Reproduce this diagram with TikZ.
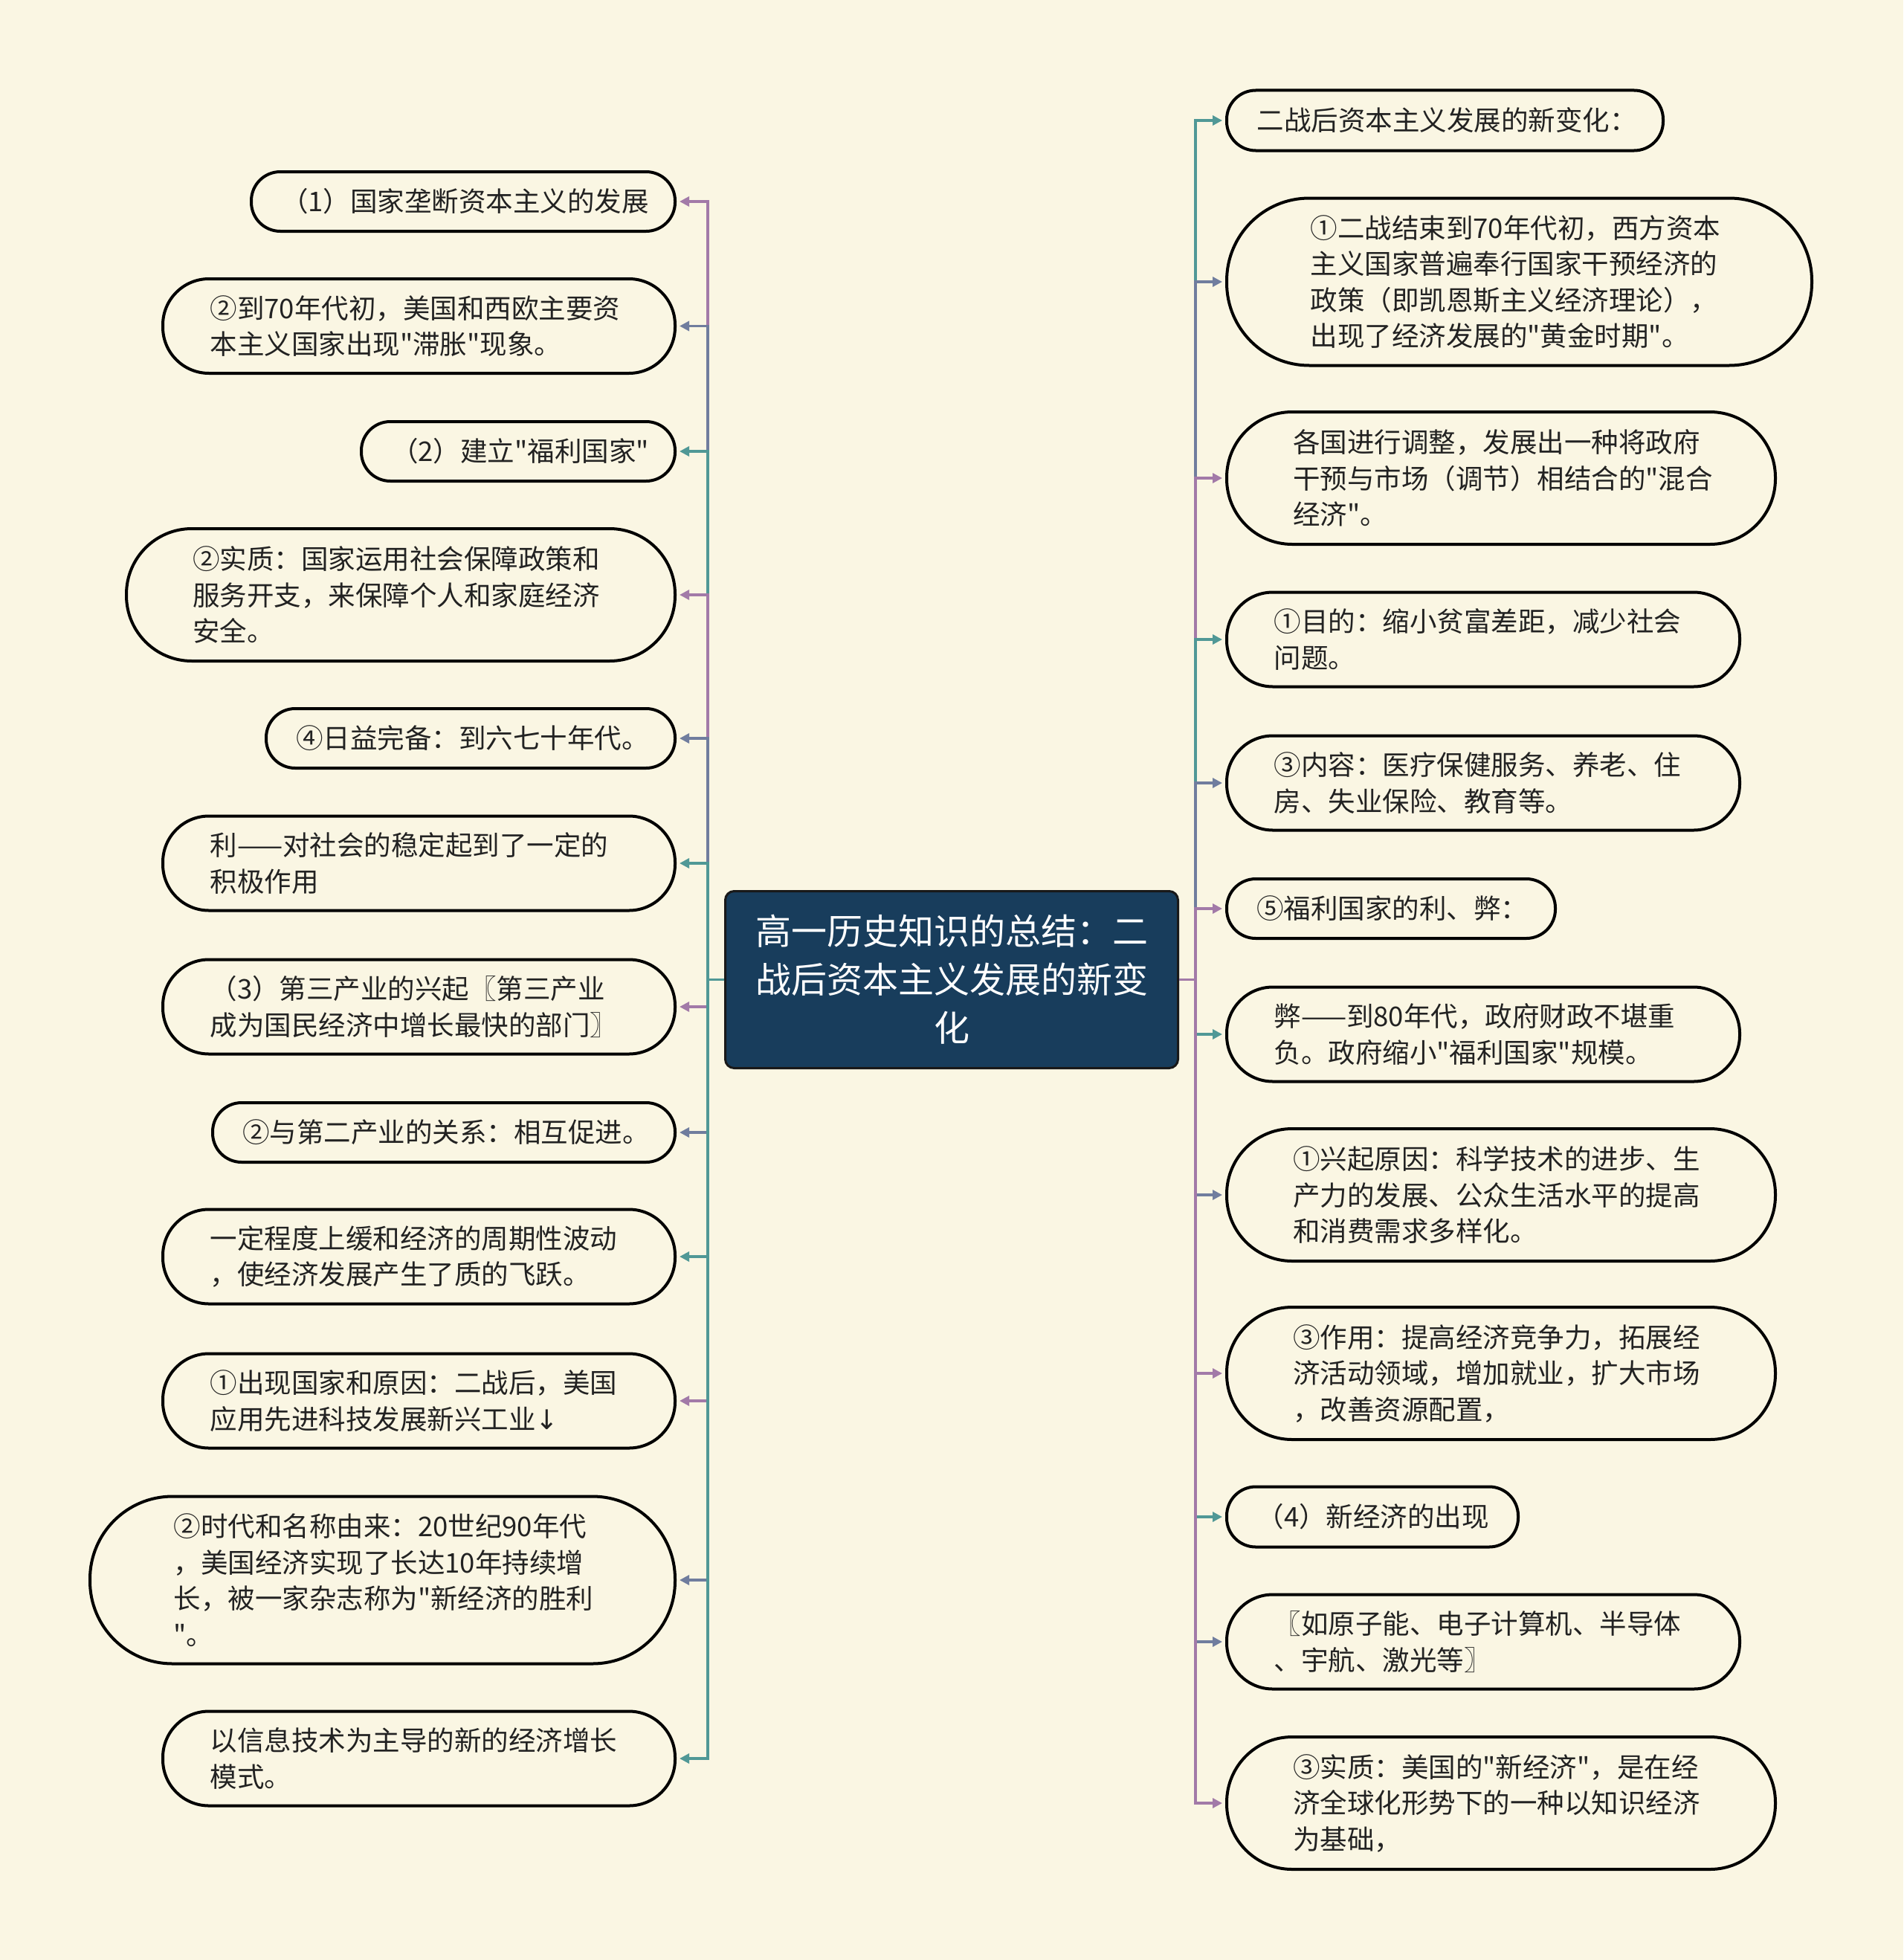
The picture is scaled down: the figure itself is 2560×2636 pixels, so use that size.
\documentclass[tikz,border=0pt]{standalone}
\usepackage{fontspec}
\newfontfamily\cjk{Noto Sans CJK SC}
\newfontfamily\symf{DejaVu Sans}
\usetikzlibrary{arrows.meta}
\definecolor{bg}{RGB}{250,246,227}
\definecolor{navy}{RGB}{24,61,92}
\definecolor{cteal}{RGB}{80,152,150}
\definecolor{cblue}{RGB}{112,125,158}
\definecolor{cpurp}{RGB}{162,122,168}
\definecolor{txt}{RGB}{34,34,34}
\tikzset{
  leaf/.style n args={4}{draw=black, line width=4pt, fill=bg,
    minimum width=#1, minimum height=#2, rounded corners=#3,
    text width=#4, inner sep=0pt, text=txt, align=left,
    font=\cjk\fontsize{36.5}{48.5}\selectfont},
  root/.style={draw=black!90, line width=3pt, fill=navy, rounded corners=12pt,
    minimum width=609pt, minimum height=238pt, inner sep=0pt, text=white,
    align=center, font=\cjk\fontsize{48}{65}\selectfont},
  link/.style={line width=3.5pt, line join=miter,
    -{Triangle[length=13pt,width=13pt]}, shorten >=4pt}
}
\begin{document}
\begin{tikzpicture}[x=1pt,y=-1pt]
\useasboundingbox (0,0) rectangle (2560,2636);
\fill[bg] (0,0) rectangle (2560,2636);

% centre
\node[root] (c) at (1280,1317.5) {高一历史知识的总结：二\\战后资本主义发展的新变\\化};
\coordinate (tl) at (952,1317.5);
\coordinate (tr) at (1608,1317.5);

% left nodes
\node[leaf={570pt}{80pt}{39pt}{490pt}]   (L1)  at (623,271)    {（1）国家垄断资本主义的发展};
\node[leaf={689pt}{127pt}{62pt}{562pt}]  (L2)  at (563.5,438.5){②到70年代初，美国和西欧主要资\\本主义国家出现"滞胀"现象。};
\node[leaf={422pt}{80pt}{39pt}{342pt}]   (L3)  at (697,607)    {（2）建立"福利国家"};
\node[leaf={738pt}{178pt}{88pt}{560pt}]  (L4)  at (539,800)    {②实质：国家运用社会保障政策和\\服务开支，来保障个人和家庭经济\\安全。};
\node[leaf={550pt}{80pt}{39pt}{470pt}]   (L5)  at (633,993)    {④日益完备：到六七十年代。};
\node[leaf={689pt}{127pt}{62pt}{562pt}]  (L6)  at (563.5,1161) {利——对社会的稳定起到了一定的\\积极作用};
\node[leaf={689pt}{127pt}{62pt}{562pt}]  (L7)  at (563.5,1354) {（3）第三产业的兴起〖第三产业\\成为国民经济中增长最快的部门〗};
\node[leaf={622pt}{80pt}{39pt}{542pt}]   (L8)  at (597,1523)   {②与第二产业的关系：相互促进。};
\node[leaf={689pt}{127pt}{62pt}{562pt}]  (L9)  at (563.5,1690) {一定程度上缓和经济的周期性波动\\，使经济发展产生了质的飞跃。};
\node[leaf={689pt}{127pt}{62pt}{562pt}]  (L10) at (563.5,1884) {①出现国家和原因：二战后，美国\\应用先进科技发展新兴工业{\symf ↓}};
\node[leaf={787pt}{225pt}{111pt}{562pt}] (L11) at (514.5,2125) {②时代和名称由来：20世纪90年代\\，美国经济实现了长达10年持续增\\长，被一家杂志称为"新经济的胜利\\"。};
\node[leaf={689pt}{127pt}{62pt}{562pt}]  (L12) at (563.5,2365) {以信息技术为主导的新的经济增长\\模式。};

% right nodes
\node[leaf={587pt}{81pt}{39pt}{506pt}]   (R1)  at (1943.5,162) {二战后资本主义发展的新变化：};
\node[leaf={787pt}{225pt}{111pt}{562pt}] (R2)  at (2043.5,379) {①二战结束到70年代初，西方资本\\主义国家普遍奉行国家干预经济的\\政策（即凯恩斯主义经济理论），\\出现了经济发展的"黄金时期"。};
\node[leaf={738pt}{178pt}{88pt}{560pt}]  (R3)  at (2019,643)   {各国进行调整，发展出一种将政府\\干预与市场（调节）相结合的"混合\\经济"。};
\node[leaf={690pt}{127pt}{62pt}{563pt}]  (R4)  at (1995,860)   {①目的：缩小贫富差距，减少社会\\问题。};
\node[leaf={690pt}{127pt}{62pt}{563pt}]  (R5)  at (1995,1053)  {③内容：医疗保健服务、养老、住\\房、失业保险、教育等。};
\node[leaf={442pt}{80pt}{39pt}{362pt}]   (R6)  at (1871,1222)  {⑤福利国家的利、弊：};
\node[leaf={690pt}{127pt}{62pt}{563pt}]  (R7)  at (1995,1391)  {弊——到80年代，政府财政不堪重\\负。政府缩小"福利国家"规模。};
\node[leaf={738pt}{178pt}{88pt}{560pt}]  (R8)  at (2019,1607)  {①兴起原因：科学技术的进步、生\\产力的发展、公众生活水平的提高\\和消费需求多样化。};
\node[leaf={738pt}{178pt}{88pt}{560pt}]  (R9)  at (2019,1847)  {③作用：提高经济竞争力，拓展经\\济活动领域，增加就业，扩大市场\\，改善资源配置，};
\node[leaf={392pt}{81pt}{39pt}{311pt}]   (R10) at (1846,2040)  {（4）新经济的出现};
\node[leaf={690pt}{127pt}{62pt}{563pt}]  (R11) at (1995,2208)  {〖如原子能、电子计算机、半导体\\、宇航、激光等〗};
\node[leaf={738pt}{178pt}{88pt}{560pt}]  (R12) at (2019,2425)  {③实质：美国的"新经济"，是在经\\济全球化形势下的一种以知识经济\\为基础，};

% left connectors
\draw[link, color=cpurp] (c.west) -- (tl) |- (L1.east);
\draw[link, color=cblue] (c.west) -- (tl) |- (L2.east);
\draw[link, color=cteal] (c.west) -- (tl) |- (L3.east);
\draw[link, color=cpurp] (c.west) -- (tl) |- (L4.east);
\draw[link, color=cblue] (c.west) -- (tl) |- (L5.east);
\draw[link, color=cteal] (c.west) -- (tl) |- (L6.east);
\draw[link, color=cpurp] (c.west) -- (tl) |- (L7.east);
\draw[link, color=cblue] (c.west) -- (tl) |- (L8.east);
\draw[link, color=cteal] (c.west) -- (tl) |- (L9.east);
\draw[link, color=cpurp] (c.west) -- (tl) |- (L10.east);
\draw[link, color=cblue] (c.west) -- (tl) |- (L11.east);
\draw[link, color=cteal] (c.west) -- (tl) |- (L12.east);

% right connectors
\draw[link, color=cteal] (c.east) -- (tr) |- (R1.west);
\draw[link, color=cblue] (c.east) -- (tr) |- (R2.west);
\draw[link, color=cpurp] (c.east) -- (tr) |- (R3.west);
\draw[link, color=cteal] (c.east) -- (tr) |- (R4.west);
\draw[link, color=cblue] (c.east) -- (tr) |- (R5.west);
\draw[link, color=cpurp] (c.east) -- (tr) |- (R6.west);
\draw[link, color=cteal] (c.east) -- (tr) |- (R7.west);
\draw[link, color=cblue] (c.east) -- (tr) |- (R8.west);
\draw[link, color=cpurp] (c.east) -- (tr) |- (R9.west);
\draw[link, color=cteal] (c.east) -- (tr) |- (R10.west);
\draw[link, color=cblue] (c.east) -- (tr) |- (R11.west);
\draw[link, color=cpurp] (c.east) -- (tr) |- (R12.west);
\end{tikzpicture}
\end{document}
